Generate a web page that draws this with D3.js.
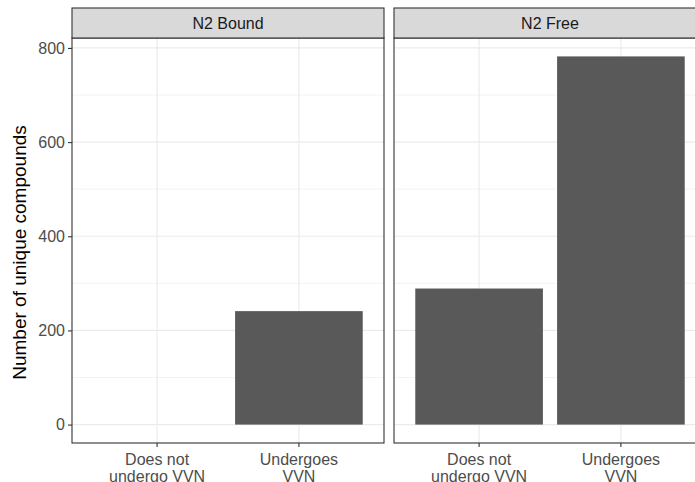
<!DOCTYPE html>
<html>
<head>
<meta charset="utf-8">
<script src="https://cdn.jsdelivr.net/npm/d3@7"></script>
<style>
  body { margin: 0; background: #fff; }
  svg { display: block; }
  text { font-family: "Liberation Sans", Arial, sans-serif; }
</style>
</head>
<body>
<svg id="chart" width="695" height="482"></svg>
<script>
// ---- data ----
const facets = ["N2 Bound", "N2 Free"];
const categories = ["Does not undergo VVN", "Undergoes VVN"];
const categoryLines = [["Does not", "undergo VVN"], ["Undergoes", "VVN"]];
const boundValues = [0, 241];
const freeValues = [289, 782];
const yTicks = [0, 200, 400, 600, 800];
const yMinorTicks = [100, 300, 500, 700];
const yTitle = "Number of unique compounds";

const seriesByFacet = [boundValues, freeValues];

// ---- layout ----
const svg = d3.select("#chart");
const panelW = 312;
const panelLefts = [72, 394];
const stripTop = 8, stripH = 30;
const panelTop = stripTop + stripH, panelBottom = 443;

const maxV = d3.max(seriesByFacet.flat());
const y = d3.scaleLinear()
  .domain([-0.05 * maxV, 1.05 * maxV])
  .range([panelBottom, panelTop]);

facets.forEach((f, i) => {
  const left = panelLefts[i];
  const x = d3.scaleBand()
    .domain(categories)
    .range([left, left + panelW])
    .paddingInner(0.1)
    .paddingOuter(0.15);
  const cx = c => x(c) + x.bandwidth() / 2;
  const g = svg.append("g");

  // panel bg
  g.append("rect").attr("x", left).attr("y", panelTop)
    .attr("width", panelW).attr("height", panelBottom - panelTop)
    .attr("fill", "#fff");

  // minor grid
  g.selectAll(".ymin").data(yMinorTicks).join("line")
    .attr("x1", left).attr("x2", left + panelW)
    .attr("y1", d => y(d)).attr("y2", d => y(d))
    .attr("stroke", "#EBEBEB").attr("stroke-width", 0.6);
  // major grid
  g.selectAll(".ymaj").data(yTicks).join("line")
    .attr("x1", left).attr("x2", left + panelW)
    .attr("y1", d => y(d)).attr("y2", d => y(d))
    .attr("stroke", "#EBEBEB").attr("stroke-width", 1.2);
  g.selectAll(".xmaj").data(categories).join("line")
    .attr("x1", d => cx(d)).attr("x2", d => cx(d))
    .attr("y1", panelTop).attr("y2", panelBottom)
    .attr("stroke", "#EBEBEB").attr("stroke-width", 1.2);

  // bars
  g.selectAll(".bar").data(categories.map((c, j) => ({c, v: seriesByFacet[i][j]})))
    .join("rect")
    .attr("x", d => x(d.c)).attr("width", x.bandwidth())
    .attr("y", d => y(d.v)).attr("height", d => y(0) - y(d.v))
    .attr("fill", "#595959");

  // panel border
  g.append("rect").attr("x", left).attr("y", panelTop)
    .attr("width", panelW).attr("height", panelBottom - panelTop)
    .attr("fill", "none").attr("stroke", "#333333").attr("stroke-width", 1.1);

  // strip
  g.append("rect").attr("x", left).attr("y", stripTop)
    .attr("width", panelW).attr("height", stripH)
    .attr("fill", "#D9D9D9").attr("stroke", "#333333").attr("stroke-width", 1.1);
  g.append("text").attr("x", left + panelW / 2).attr("y", stripTop + stripH / 2)
    .attr("text-anchor", "middle").attr("dominant-baseline", "central")
    .attr("font-size", 16).attr("fill", "#1A1A1A").text(f);

  // x axis
  const xAxis = d3.axisBottom(x).tickSize(4).tickPadding(3).tickFormat(() => "");
  const ax = g.append("g").attr("transform", `translate(0,${panelBottom})`).call(xAxis);
  ax.select(".domain").remove();
  ax.selectAll(".tick line").attr("stroke", "#333333").attr("stroke-width", 1.1);
  ax.selectAll(".tick").each(function(d) {
    const lines = categoryLines[categories.indexOf(d)];
    const t = d3.select(this).append("text")
      .attr("text-anchor", "middle").attr("fill", "#4D4D4D")
      .attr("font-size", 16);
    lines.forEach((ln, k) => {
      t.append("tspan").attr("x", 0).attr("y", 22 + k * 17).text(ln);
    });
  });

  // y axis only on first panel
  if (i === 0) {
    const yAxis = d3.axisLeft(y).tickValues(yTicks).tickSize(4).tickPadding(3);
    const ay = g.append("g").attr("transform", `translate(${left},0)`).call(yAxis);
    ay.select(".domain").remove();
    ay.selectAll(".tick line").attr("stroke", "#333333").attr("stroke-width", 1.1);
    ay.selectAll(".tick text").attr("fill", "#4D4D4D").attr("font-size", 16)
      .attr("font-family", "'Liberation Sans', Arial, sans-serif");
  }
});

// y title
svg.append("text")
  .attr("transform", `translate(26,${(panelTop + panelBottom) / 2 + 12}) rotate(-90)`)
  .attr("text-anchor", "middle").attr("font-size", 19).attr("fill", "#000")
  .text(yTitle);
</script>
</body>
</html>
